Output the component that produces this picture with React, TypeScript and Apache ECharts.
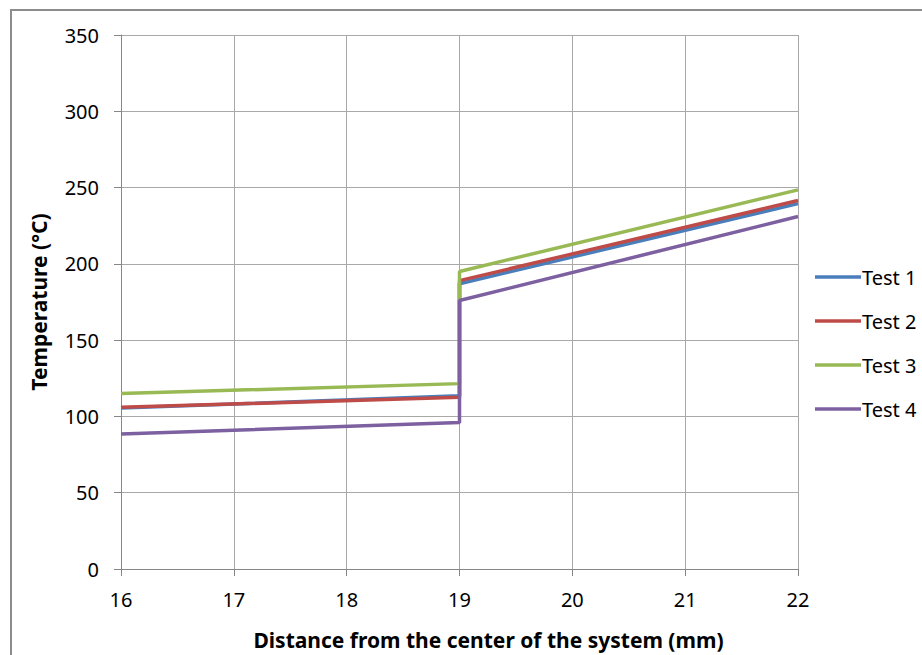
import React, { useEffect, useRef } from "react";
import * as echarts from "echarts";

const seriesNames = ["Test 1", "Test 2", "Test 3", "Test 4"];
const colors = ["#4a7ebb", "#be4b48", "#98b954", "#7d60a0"];
const xPoints = [16, 19, 19, 22];
const test1 = [105.5, 113.5, 187, 239.5];
const test2 = [106, 112.5, 189, 241.5];
const test3 = [115, 121.5, 195, 248.5];
const test4 = [88.5, 96, 176, 231];
const seriesValues = [test1, test2, test3, test4];

const FONT = "'Noto Sans', 'Open Sans', sans-serif";

export default function App() {
  const ref = useRef<HTMLDivElement>(null);
  useEffect(() => {
    if (!ref.current) return;
    const chart = echarts.init(ref.current, null, { renderer: "svg" });
    chart.setOption({
      animation: false,
      backgroundColor: "#ffffff",
      textStyle: { fontFamily: FONT },
      graphic: [
        {
          type: "rect",
          shape: { x: 11, y: 10, width: 1000, height: 1000 },
          style: { fill: "none", stroke: "#8c8c8c", lineWidth: 2 },
          silent: true,
          z: -1,
        },
      ],
      grid: { left: 121, top: 35, width: 677, height: 538, containLabel: false },
      legend: {
        orient: "vertical",
        left: 810,
        top: 260,
        itemWidth: 46,
        itemHeight: 3.5,
        itemGap: 20,
        icon: "rect",
        textStyle: { fontSize: 20, color: "#000", fontFamily: FONT, lineHeight: 24, padding: [0, 0, 0, -4] },
        data: seriesNames,
      },
      xAxis: {
        type: "value",
        min: 16,
        max: 22,
        interval: 1,
        name: "Distance from the center of the system (mm)",
        nameLocation: "middle",
        nameGap: 60,
        nameTextStyle: { fontSize: 21, fontWeight: "bold", color: "#000", fontFamily: FONT, padding: [0, 0, 0, 58] },
        axisLine: { show: true, onZero: false, lineStyle: { color: "#868686", width: 1 } },
        axisTick: { show: true, length: 7, lineStyle: { color: "#868686" } },
        axisLabel: { fontSize: 20, color: "#000", margin: 20, fontFamily: FONT },
        splitLine: { show: true, lineStyle: { color: "#a8a8a8", width: 1 } },
      },
      yAxis: {
        type: "value",
        min: 0,
        max: 350,
        interval: 50,
        name: "Temperature (°C)",
        nameLocation: "middle",
        nameGap: 72,
        nameTextStyle: { fontSize: 21, fontWeight: "bold", color: "#000", fontFamily: FONT },
        axisLine: { show: true, lineStyle: { color: "#868686", width: 1 } },
        axisTick: { show: true, length: 7, lineStyle: { color: "#868686" } },
        axisLabel: { fontSize: 20, color: "#000", margin: 22, fontFamily: FONT },
        splitLine: { show: true, lineStyle: { color: "#a8a8a8", width: 1 } },
      },
      series: seriesNames.map((name, i) => ({
        name,
        type: "line",
        data: xPoints.map((x, j) => [x, seriesValues[i][j]]),
        symbol: "none",
        lineStyle: { color: colors[i], width: 3.5 },
        itemStyle: { color: colors[i] },
        z: 2 + i,
      })),
    });
    return () => chart.dispose();
  }, []);
  return (
    <div
      ref={ref}
      style={{ position: "fixed", left: 0, top: 0, width: 922, height: 655 }}
    />
  );
}
